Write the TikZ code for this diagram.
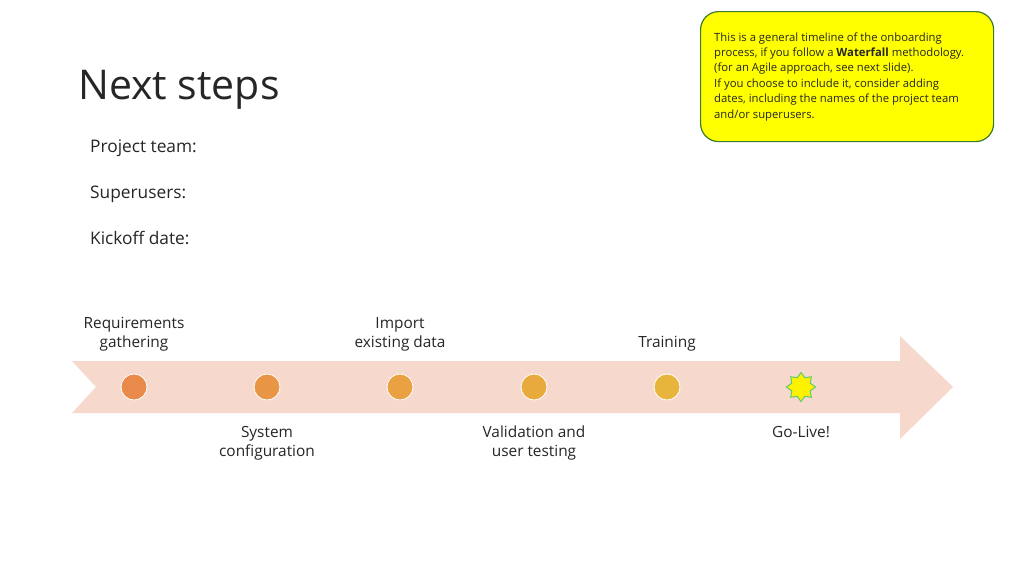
\documentclass[tikz,border=0pt]{standalone}
\usepackage{fontspec}
\setmainfont{Open Sans}
\usetikzlibrary{shapes.geometric}
\definecolor{arrowfill}{HTML}{F6D8CC}
\definecolor{txt}{HTML}{262626}
\definecolor{noteyellow}{HTML}{FFFF00}
\definecolor{notegreen}{HTML}{3E7A2E}
\definecolor{cA}{HTML}{E98A4A}
\definecolor{cB}{HTML}{E99546}
\definecolor{cC}{HTML}{E9A142}
\definecolor{cD}{HTML}{E8AA3C}
\definecolor{cE}{HTML}{E8B53C}
\definecolor{stargreen}{HTML}{5FCB6A}
\begin{document}
\begin{tikzpicture}[x=1pt,y=-1pt,
  lbl/.style={text=txt,font=\fontsize{15.4}{19}\selectfont,align=center,inner sep=0pt},
  dot/.style={circle,draw=white,line width=0.8pt,minimum size=26pt,inner sep=0pt},
  side/.style={text=txt,font=\fontsize{17.3}{20}\selectfont,anchor=base west,inner sep=0pt}]
\useasboundingbox (0,0) rectangle (1024,576);
\fill[white] (0,0) rectangle (1024,576);
% arrow
\fill[arrowfill] (72,361) -- (900,361) -- (900,336) -- (953,387) -- (900,439) -- (900,413) -- (72,413) -- (96,387) -- cycle;
% title
\node[text=txt,font=\fontsize{41}{48}\selectfont,anchor=base west,inner sep=0pt] (title) at (78,99) {Next steps};
\node[side] (team) at (90,152) {Project team:};
\node[side] (super) at (90,198) {Superusers:};
\node[side] (kick) at (90,244) {Kickoff date:};
% note
\node[draw=notegreen,line width=1.2pt,fill=noteyellow,rounded corners=18pt,minimum width=293pt,minimum height=130pt,anchor=north west] (note) at (700,11) {};
\node[anchor=base west,inner sep=0pt,text=txt,font=\fontsize{11.3}{15.4}\selectfont,align=left] (notetext) at (714,118) {This is a general timeline of the onboarding\\process, if you follow a \textbf{Waterfall} methodology.\\(for an Agile approach, see next slide).\\If you choose to include it, consider adding\\dates, including the names of the project team\\and/or superusers.};
% dots
\node[dot,fill=cA] (d1) at (134,387) {};
\node[dot,fill=cB] (d2) at (267,387) {};
\node[dot,fill=cC] (d3) at (400,387) {};
\node[dot,fill=cD] (d4) at (534,387) {};
\node[dot,fill=cE] (d5) at (667,387) {};
\node[star,star points=8,star point ratio=1.45,minimum size=29pt,inner sep=0pt,fill=yellow,draw=stargreen,line width=1pt] (d6) at (801,387) {};
% labels
\node[lbl,anchor=base] (l1) at (134,347) {Requirements\\gathering};
\node[lbl,anchor=base] (l3) at (400,347) {Import\\existing data};
\node[lbl,anchor=base] (l5) at (667,347) {Training};
\node[lbl,anchor=base] (l2) at (267,456) {System\\configuration};
\node[lbl,anchor=base] (l4) at (534,456) {Validation and\\user testing};
\node[lbl,anchor=base] (l6) at (801,437) {Go-Live!};
\end{tikzpicture}
\end{document}
